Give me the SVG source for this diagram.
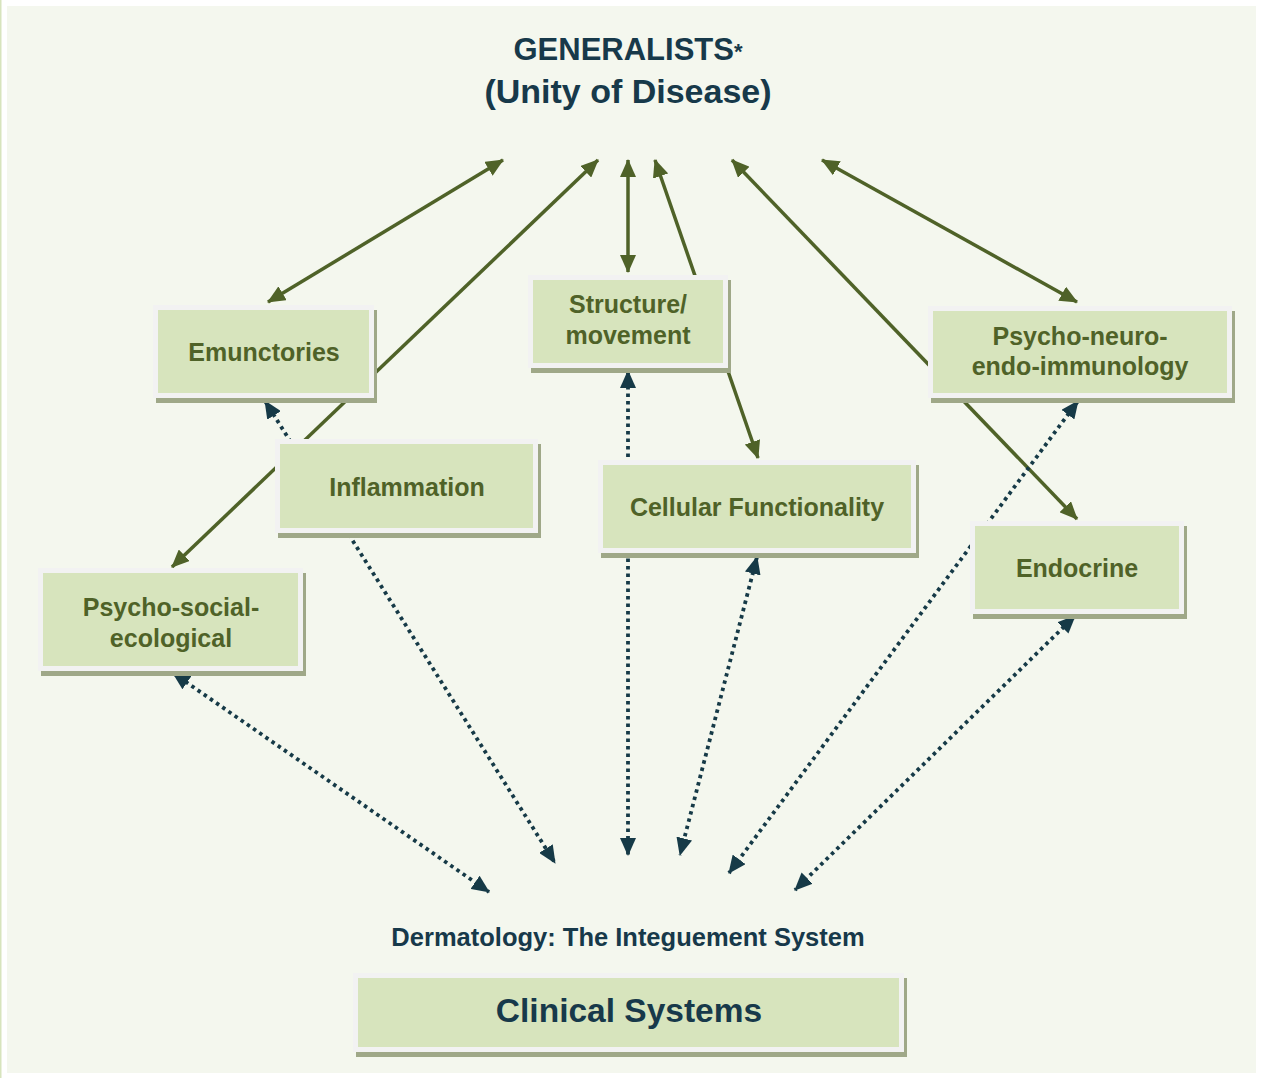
<svg xmlns="http://www.w3.org/2000/svg" width="1261" height="1078" viewBox="0 0 1261 1078">
  <defs>
    <marker id="headOlive" viewBox="0 0 18 16" refX="17" refY="8" markerWidth="18" markerHeight="16" markerUnits="userSpaceOnUse" orient="auto-start-reverse">
      <path d="M0,0 L18,8 L0,16 z" fill="#4f6228"/>
    </marker>
    <marker id="headTeal" viewBox="0 0 18 16" refX="17" refY="8" markerWidth="18" markerHeight="16" markerUnits="userSpaceOnUse" orient="auto-start-reverse">
      <path d="M0,0 L18,8 L0,16 z" fill="#163a47"/>
    </marker>
  </defs>
  <style>
    .solid { stroke: #4f6228; stroke-width: 3.5; fill: none; marker-start: url(#headOlive); marker-end: url(#headOlive); }
    .dotted { stroke: #163a47; stroke-width: 3.8; fill: none; stroke-dasharray: 3.5 4; marker-start: url(#headTeal); marker-end: url(#headTeal); }
    .shadow { fill: #9fa888; }
    .frame { fill: #f2f2f2; }
    .fill { fill: #d7e4bd; }
    .label { font-family: "Liberation Sans", Arial, sans-serif; font-weight: bold; font-size: 25px; fill: #4f6228; text-anchor: middle; }
    .title { font-family: "Liberation Sans", Arial, sans-serif; font-weight: bold; fill: #17394a; text-anchor: middle; }
  </style>

  <!-- page -->
  <rect x="0" y="0" width="1261" height="1078" fill="#ffffff"/>
  <rect x="0" y="0" width="1.5" height="1078" fill="#d7e4bd"/>
  <rect x="7" y="6" width="1249" height="1067" fill="#f4f7ee"/>

  <!-- heading -->
  <g id="generalists">
    <text class="title" x="628" y="60" font-size="31">GENERALISTS<tspan font-size="22" dy="-1">*</tspan></text>
    <text class="title" x="628" y="103" font-size="34">(Unity of Disease)</text>
  </g>

  <!-- connectors -->
  <g id="connectors">
    <line class="solid" x1="268" y1="302" x2="503" y2="160"/>
    <line class="solid" x1="598" y1="160" x2="172" y2="567"/>
    <line class="solid" x1="628" y1="160" x2="628" y2="272"/>
    <line class="solid" x1="655" y1="160" x2="758" y2="458"/>
    <line class="solid" x1="732" y1="160" x2="1077" y2="519"/>
    <line class="solid" x1="822" y1="160" x2="1077" y2="302"/>

    <line class="dotted" x1="265" y1="401" x2="555" y2="863"/>
    <line class="dotted" x1="173" y1="673" x2="489" y2="892"/>
    <line class="dotted" x1="628" y1="371" x2="628" y2="855"/>
    <line class="dotted" x1="757" y1="557" x2="680" y2="855"/>
    <line class="dotted" x1="1078" y1="401" x2="729" y2="873"/>
    <line class="dotted" x1="1075" y1="616" x2="795" y2="890"/>
  </g>

  <!-- nodes -->
  <g id="emunctories">
    <rect class="shadow" x="156" y="310" width="221" height="93"/>
    <rect class="frame" x="153" y="305" width="221" height="93"/>
    <rect class="fill" x="158" y="310" width="211" height="83"/>
    <text class="label" x="264" y="361">Emunctories</text>
  </g>

  <g id="structure-movement">
    <rect class="shadow" x="531" y="280" width="200" height="93"/>
    <rect class="frame" x="528" y="275" width="200" height="93"/>
    <rect class="fill" x="533" y="280" width="190" height="83"/>
    <text class="label" x="628" y="313">Structure/</text>
    <text class="label" x="628" y="344">movement</text>
  </g>

  <g id="inflammation">
    <rect class="shadow" x="278" y="444" width="263" height="94"/>
    <rect class="frame" x="275" y="439" width="263" height="94"/>
    <rect class="fill" x="280" y="444" width="253" height="84"/>
    <text class="label" x="407" y="496">Inflammation</text>
  </g>

  <g id="psycho-neuro-endo-immunology">
    <rect class="shadow" x="931" y="311" width="304" height="92"/>
    <rect class="frame" x="928" y="306" width="304" height="92"/>
    <rect class="fill" x="933" y="311" width="294" height="82"/>
    <text class="label" x="1080" y="345">Psycho-neuro-</text>
    <text class="label" x="1080" y="375">endo-immunology</text>
  </g>

  <g id="psycho-social-ecological">
    <rect class="shadow" x="41" y="573" width="265" height="103"/>
    <rect class="frame" x="38" y="568" width="265" height="103"/>
    <rect class="fill" x="43" y="573" width="255" height="93"/>
    <text class="label" x="171" y="616">Psycho-social-</text>
    <text class="label" x="171" y="647">ecological</text>
  </g>

  <g id="cellular-functionality">
    <rect class="shadow" x="601" y="465" width="318" height="93"/>
    <rect class="frame" x="598" y="460" width="318" height="93"/>
    <rect class="fill" x="603" y="465" width="308" height="83"/>
    <text class="label" x="757" y="516">Cellular Functionality</text>
  </g>

  <g id="endocrine">
    <rect class="shadow" x="973" y="526" width="214" height="93"/>
    <rect class="frame" x="970" y="521" width="214" height="93"/>
    <rect class="fill" x="975" y="526" width="204" height="83"/>
    <text class="label" x="1077" y="577">Endocrine</text>
  </g>

  <g id="dermatology">
    <text class="title" x="628" y="946" font-size="25.5">Dermatology: The Integuement System</text>
  </g>

  <g id="clinical-systems">
    <rect class="shadow" x="356" y="978" width="551" height="79"/>
    <rect class="frame" x="353" y="973" width="551" height="79"/>
    <rect class="fill" x="358" y="978" width="541" height="69"/>
    <text class="title" x="629" y="1022" font-size="33.5">Clinical Systems</text>
  </g>
</svg>
